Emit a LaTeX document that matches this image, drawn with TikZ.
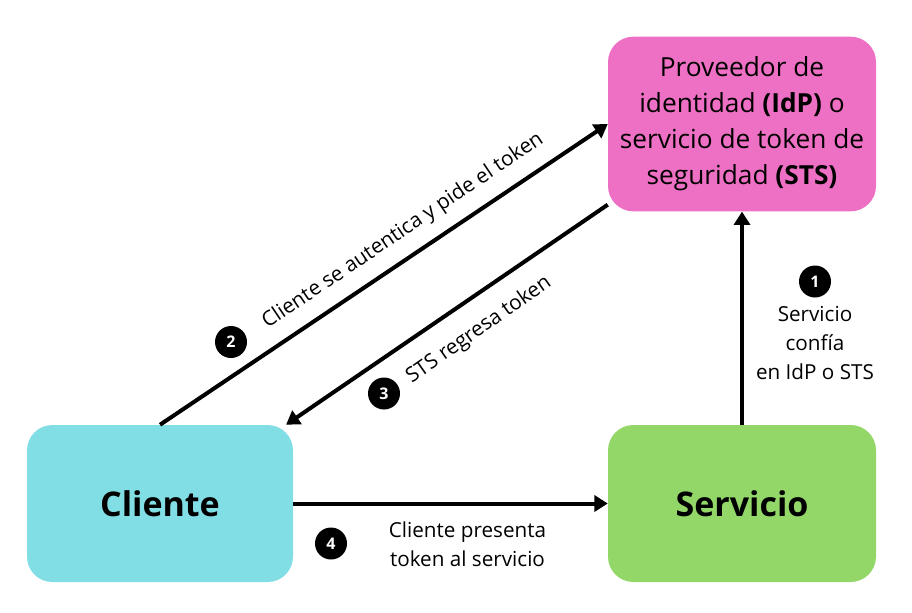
\documentclass[tikz,border=0pt]{standalone}
\usepackage{fontspec}
\setmainfont{Open Sans}
\usepackage{xcolor}
\usepackage{tikz}
\usetikzlibrary{shapes, arrows.meta, positioning}
\definecolor{idppink}{HTML}{EE70C4}
\definecolor{clientcyan}{HTML}{81DEE5}
\definecolor{servgreen}{HTML}{94D769}

\begin{document}
\begin{tikzpicture}
  [
    x=0.75pt, y=-0.75pt,
    Box/.style={rectangle, rounded corners=19pt, minimum width=201pt, minimum height=131pt, align=center, inner sep=0pt},
    Num/.style={circle, fill=black, text=white, minimum size=24pt, inner sep=0pt, font=\bfseries\fontsize{12}{12}\selectfont},
    Lbl/.style={font=\fontsize{15.5}{22}\selectfont, align=center},
    Flow/.style={-{Triangle[length=10pt, width=12pt]}, line width=3pt}
  ]
  \useasboundingbox (0,0) rectangle (912,612);
  % Nodes
  \node[Box, fill=idppink, font=\fontsize{19.7}{27}\selectfont] (idp) at(742, 124)
    {Proveedor de\\identidad \textbf{(IdP)} o\\servicio de token de\\seguridad \textbf{(STS)}};
  \node[Box, fill=clientcyan, minimum width=199.5pt, minimum height=117.75pt,
    font=\bfseries\fontsize{25.5}{28}\selectfont] (cliente) at(160, 503.5) {Cliente};
  \node[Box, fill=servgreen, minimum height=117.75pt,
    font=\bfseries\fontsize{25.5}{28}\selectfont] (servicio) at(742, 503.5) {Servicio};
  % Steps
  \node[Num] (n1) at(815, 281.5) {1};
  \node[Num] (n2) at(231, 342) {2};
  \node[Num] (n3) at(384, 393.5) {3};
  \node[Num] (n4) at(331, 543.5) {4};
  \node[Lbl] (l1) at(815, 343) {Servicio\\confía\\en IdP o STS};
  \node[Lbl, rotate=34] (l2) at(403, 231) {Cliente se autentica y pide el token};
  \node[Lbl, rotate=35] (l3) at(479, 330) {STS regresa token};
  \node[Lbl] (l4) at(467.5, 544) {Cliente presenta\\token al servicio};
  % Lines
  \path [Flow, draw] (servicio.north) -- (idp.south);
  \path [Flow, draw] (cliente.north) -- (idp.west);
  \path [Flow, draw] (idp.211) -- (cliente.32);
  \path [Flow, draw] (cliente.east) -- (servicio.west);
\end{tikzpicture}
\end{document}
